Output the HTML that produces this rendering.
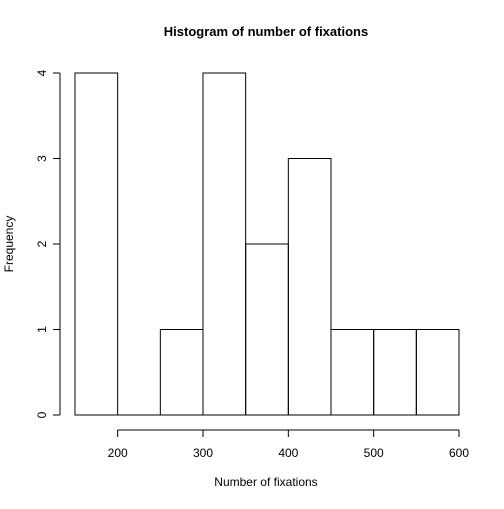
<!DOCTYPE html>
<html><head><meta charset="utf-8"><style>
body{margin:0;background:#fff}
svg text{font-family:"Liberation Sans",Arial,sans-serif;fill:#000}
</style></head><body>
<svg id="chart" width="504" height="504" xmlns="http://www.w3.org/2000/svg">
<rect width="504" height="504" fill="#fff"/>
<text x="266" y="36" font-size="13" font-weight="bold" text-anchor="middle">Histogram of number of fixations</text>
<text x="266" y="486" font-size="12" text-anchor="middle">Number of fixations</text>
<text x="0" y="0" font-size="12" text-anchor="middle" transform="translate(13,244) rotate(-90)">Frequency</text>
<g id="bars"></g>
<g id="xaxis"></g>
<g id="yaxis"></g>
</svg>
<script>
const breaks = [150,200,250,300,350,400,450,500,550,600];
const counts = [4,0,1,4,2,3,1,1,1];
const xTicks = [200,300,400,500,600];
const yTicks = [0,1,2,3,4];
const NS="http://www.w3.org/2000/svg";
function sx(v){return 75+(v-150)*(459-75)/450;}
function sy(v){return 415-v*(415-73)/4;}
function mk(tag,attrs,parent){const e=document.createElementNS(NS,tag);for(const k in attrs)e.setAttribute(k,attrs[k]);parent.appendChild(e);return e;}
const bars=document.getElementById('bars');
for(let i=0;i<counts.length;i++){
  const x0=sx(breaks[i]),x1=sx(breaks[i+1]),y0=sy(0),y1=sy(counts[i]);
  const r=mk('path',{d:`M${x0},${y0}L${x0},${y1}L${x1},${y1}L${x1},${y0}Z`,fill:'none',stroke:'#000','stroke-width':1},bars);
  
  
}
const xa=document.getElementById('xaxis');
mk('line',{x1:sx(xTicks[0]),x2:sx(xTicks[xTicks.length-1]),y1:430,y2:430,stroke:'#000'},xa);
xTicks.forEach(t=>{
  mk('line',{x1:sx(t),x2:sx(t),y1:430,y2:437,stroke:'#000'},xa);
  const tx=mk('text',{x:sx(t),y:457,'font-size':12,'text-anchor':'middle'},xa);
  tx.textContent=t;
  
  
});
const ya=document.getElementById('yaxis');
mk('line',{x1:60,x2:60,y1:sy(yTicks[0]),y2:sy(yTicks[yTicks.length-1]),stroke:'#000'},ya);
yTicks.forEach(t=>{
  mk('line',{x1:53,x2:60,y1:sy(t),y2:sy(t),stroke:'#000'},ya);
  const tx=mk('text',{x:0,y:0,'font-size':12,'text-anchor':'middle',transform:`translate(46,${sy(t)}) rotate(-90)`},ya);
  tx.textContent=t;
  
  
});
</script>
</body></html>
